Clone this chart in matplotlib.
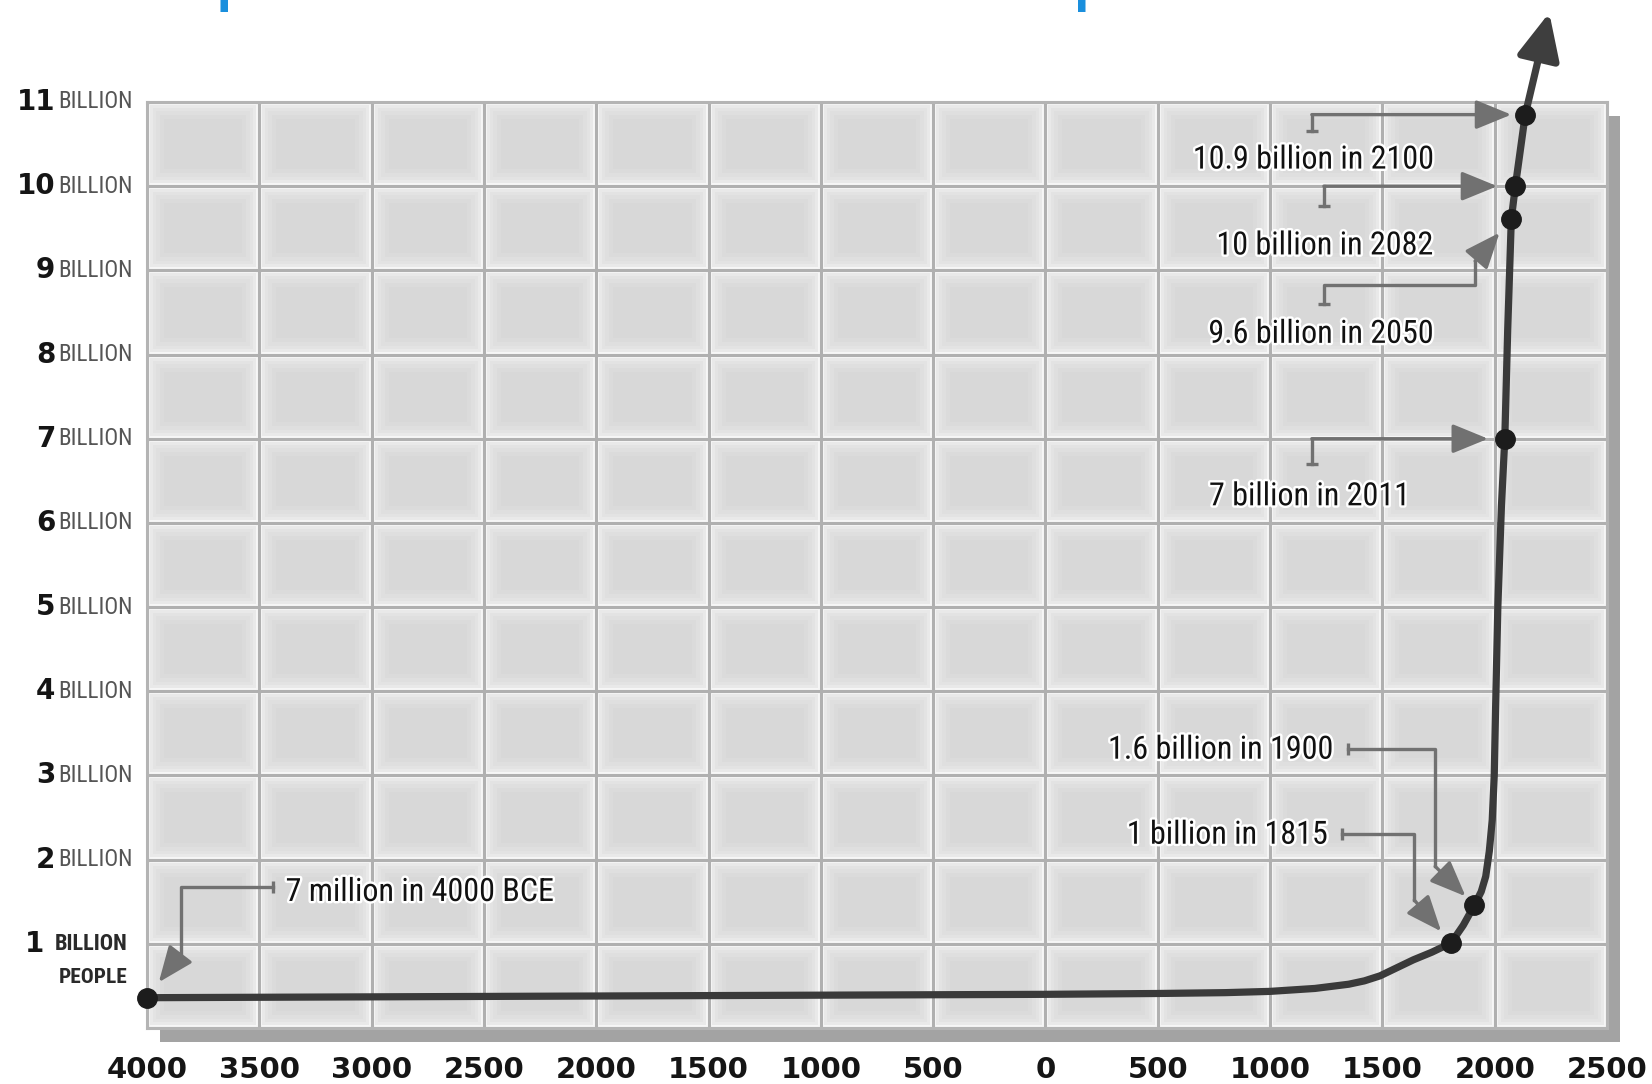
import matplotlib
matplotlib.use("Agg")
import matplotlib.pyplot as plt
import matplotlib.patheffects as pe
from matplotlib import font_manager
from matplotlib.patches import Rectangle
from matplotlib.transforms import blended_transform_factory, offset_copy

# --- datos (anio, miles de millones) ---
curve_years = [-4000, -3000, -2000, -1000, 0, 500, 800, 1000, 1200, 1350,
               1420, 1490, 1560, 1638, 1720, 1806, 1860, 1910, 1940, 1960,
               1976, 1989, 1998, 2004, 2014, 2030, 2045, 2058, 2074, 2092, 2136]
curve_vals = [0.36, 0.37, 0.38, 0.39, 0.40, 0.41, 0.42, 0.435, 0.47, 0.52,
              0.56, 0.62, 0.71, 0.81, 0.90, 1.01, 1.22, 1.46, 1.62, 1.80,
              2.10, 2.47, 3.0, 3.8, 5.0, 6.2, 7.0, 8.3, 9.61, 10.0, 10.85]
tip_year, tip_val = 2243, 12.06

dot_years = [-4000, 1806, 1910, 2045, 2074, 2092, 2136]
dot_vals = [0.36, 1.01, 1.46, 7.0, 9.61, 10.0, 10.85]

x_ticks = list(range(-4000, 2501, 500))
x_labels = [str(abs(t)) for t in x_ticks]
y_ticks = list(range(1, 12))
y_numbers = [str(v) for v in y_ticks]

title = "Exponential Growth of the World Population"

notes = ["10.9 billion in 2100", "10 billion in 2082", "9.6 billion in 2050",
         "7 billion in 2011", "1.6 billion in 1900", "1 billion in 1815",
         "7 million in 4000 BCE"]
note_dot = [6, 5, 4, 3, 2, 1, 0]
note_xy = [(1194, 10.31), (1245, 9.29), (1228, 8.24), (1176, 6.31),
           (1283, 3.30), (1258, 2.29), (-3383, 1.61)]
note_ha = ['center', 'center', 'center', 'center', 'right', 'right', 'left']
note_path = [
    [(1186, 10.66), (1186, 10.85)],
    [(1240, 9.76), (1240, 10.0)],
    [(1240, 8.60), (1240, 8.83), (1913, 8.83), (1913, 9.11)],
    [(1186, 6.70), (1186, 7.0)],
    [(1348, 3.31), (1735, 3.31), (1735, 1.92)],
    [(1321, 2.31), (1642, 2.31), (1642, 1.52)],
    [(-3439, 1.68), (-3848, 1.68), (-3848, 0.89)],
]
note_shrink = [10, 13, 13, 12, 9, 11, 14]

W, H = 1652, 1084

# buscar una fuente estrecha instalada
fuentes = font_manager.fontManager.ttflist
nombres = {f.name for f in fuentes}
estrecha, estiramiento = None, 'normal'
for nombre in ['Liberation Sans Narrow', 'Roboto Condensed', 'Open Sans Condensed',
               'Noto Sans Condensed', 'DejaVu Sans Condensed', 'Arial Narrow']:
    if nombre in nombres:
        estrecha = nombre
        break
if estrecha is None:
    for f in fuentes:
        if f.stretch in ('condensed', 'semi-condensed', 'extra-condensed') or \
                'Narrow' in f.name or 'Condensed' in f.name or 'Cond' in f.name:
            estrecha = f.name
            if f.stretch not in ('normal', 500, 'medium'):
                estiramiento = f.stretch
            break
if estrecha is None:
    estrecha = 'Roboto'
narrow = [estrecha, 'DejaVu Sans']

fig = plt.figure(figsize=(W / 100, H / 100), dpi=100)
fig.patch.set_facecolor('white')
renderer = fig.canvas.get_renderer()


def ajustar(t, ancho_px):
    w = t.get_window_extent(renderer=renderer).width
    t.set_fontsize(t.get_fontsize() * ancho_px / w)
    return t.get_fontsize()


ax_l, ax_r = 147 / W, 1607 / W
ax_b, ax_t = 1 - 1028 / H, 1 - 102 / H
ax = fig.add_axes([ax_l, ax_b, ax_r - ax_l, ax_t - ax_b])
ax.set_facecolor('#f6f6f6')

# sombra del panel
sombra = Rectangle((ax_l + 13 / W, ax_b - 14 / H), ax_r - ax_l, ax_t - ax_b,
                   transform=fig.transFigure, facecolor='#a3a3a3',
                   edgecolor='none', zorder=-1)
fig.patches.append(sombra)

ax.set_xlim(-4000, 2500)
ax.set_ylim(0, 11)

# celdas con relleno difuminado
px_x = 1000 / 224.7
px_y = 1 / 84.3
capas = [(3, '#e9e9e9'), (6, '#e3e3e3'), (9, '#dfdfdf'), (13, '#dbdbdb'), (17, '#d8d8d8')]
for x0 in range(-4000, 2500, 500):
    for y0 in range(0, 11):
        for inset, color in capas:
            ax.add_patch(Rectangle((x0 + inset * px_x, y0 + inset * px_y),
                                   500 - 2 * inset * px_x, 1 - 2 * inset * px_y,
                                   facecolor=color, edgecolor='none', zorder=0.8))

ax.set_xticks(x_ticks)
ax.set_xticklabels(x_labels, fontsize=21, fontweight='bold', color='#151515')
ax.set_yticks(list(range(0, 12)))
ax.set_yticklabels([])
ax.tick_params(length=0)
ax.tick_params(axis='x', pad=20)
ax.grid(True, color='#b0b0b0', linewidth=2.2)
for s in ax.spines.values():
    s.set_color('#b4b4b4')
    s.set_linewidth(2.2)

# etiquetas del eje y
base = blended_transform_factory(ax.transAxes, ax.transData)
for v, num in zip(y_ticks, y_numbers):
    dx_num = -74 if v == 1 else -66
    ax.text(0, v, num, transform=offset_copy(base, fig, x=dx_num, y=0, units='points'),
            ha='right', va='center', fontsize=20, fontweight='bold', color='#151515')
    t = ax.text(0, v, 'BILLION',
                transform=offset_copy(base, fig, x=-14 if v == 1 else -10, y=0, units='points'),
                ha='right', va='center', fontsize=17, family=narrow, fontstretch=estiramiento,
                color='#2a2a2a' if v == 1 else '#555555',
                fontweight='bold' if v == 1 else 'normal')
    ajustar(t, 73 if v == 1 else 74)
t = ax.text(0, 0.6, 'PEOPLE', transform=offset_copy(base, fig, x=-14, y=0, units='points'),
            ha='right', va='center', fontsize=17, family=narrow, fontstretch=estiramiento,
            color='#2a2a2a', fontweight='bold')
ajustar(t, 69)

# curva principal
ax.plot(curve_years, curve_vals, color='#3a3a3a', linewidth=5.2,
        solid_capstyle='round', solid_joinstyle='round', zorder=4, clip_on=False)
ax.annotate('', xy=(tip_year, tip_val), xytext=(curve_years[-1], curve_vals[-1]),
            arrowprops=dict(arrowstyle='-|>,head_length=1.4,head_width=0.65',
                            mutation_scale=20, color='#3e3e3e', lw=5.2,
                            shrinkA=0, shrinkB=0),
            annotation_clip=False, zorder=4)
ax.plot(dot_years, dot_vals, 'o', markersize=14, color='#1c1c1c', zorder=5, clip_on=False)

# anotaciones
gris = '#717171'
halo = [pe.withStroke(linewidth=3.5, foreground='white')]
t0 = ax.text(0, 0, notes[0], fontsize=25, family=narrow, fontstretch=estiramiento)
tam = ajustar(t0, 242)
t0.remove()
for txt, (tx, ty), ha, path, di, shr in zip(notes, note_xy, note_ha, note_path,
                                             note_dot, note_shrink):
    ax.text(tx, ty, txt, ha=ha, va='center', fontsize=tam, family=narrow,
            fontstretch=estiramiento, color='#111111', path_effects=halo, zorder=6)
    xs = [p[0] for p in path]
    ys = [p[1] for p in path]
    ax.plot(xs, ys, color=gris, linewidth=2.4, zorder=3, clip_on=False)
    marca = '_' if xs[0] == xs[1] else '|'
    ax.plot(xs[0], ys[0], marker=marca, markersize=9, markeredgewidth=2.4,
            color=gris, zorder=3)
    ax.annotate('', xy=(dot_years[di], dot_vals[di]), xytext=path[-1],
                arrowprops=dict(arrowstyle='-|>,head_length=1.1,head_width=0.45',
                                mutation_scale=20, color=gris, lw=2.4,
                                shrinkA=0, shrinkB=shr),
                annotation_clip=False, zorder=3)

# titulo (recortado en el borde superior, como en el original)
fig.text(158 / W, 1 - 0.5 / H, title, color='#1a8fdd', fontsize=37,
         fontweight='bold', family=['Open Sans', 'DejaVu Sans'],
         ha='left', va='baseline')

fig.savefig('out.png', dpi=100, facecolor='white')
plt.close(fig)
